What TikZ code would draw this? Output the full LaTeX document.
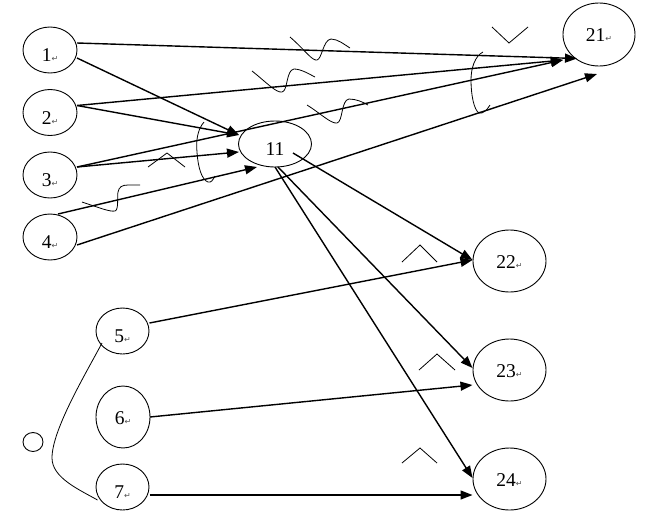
\documentclass[tikz,border=0pt]{standalone}
\usepackage{fontspec}
\setmainfont{Liberation Serif}
\newfontfamily\dvsfont{DejaVu Sans}
\usetikzlibrary{arrows.meta,shapes.geometric}
\definecolor{retgray}{RGB}{80,80,80}
\newcommand{\retmark}{{\dvsfont\fontsize{8}{8}\selectfont\color{retgray}↵}}
\begin{document}
\begin{tikzpicture}[x=1pt,y=-1pt,
  nd/.style={ellipse, draw, line width=0.9pt, inner sep=0pt, font=\fontsize{19.5}{19.5}\selectfont, text depth=0pt},
  sm/.style={nd, minimum width=54pt, minimum height=46pt, text height=23.5pt},
  bg/.style={nd, minimum width=73pt, minimum height=62pt, text height=14pt},
  conn/.style={line width=1.4pt, -{Triangle[length=12pt,width=9pt]}},
  deco/.style={line width=0.8pt}]
\useasboundingbox (0,0) rectangle (654,515);
% nodes
\node[sm] (n1) at (50,50) {1\retmark};
\node[sm] (n2) at (50,112.5) {2\retmark};
\node[sm] (n3) at (50,175) {3\retmark};
\node[sm] (n4) at (50,237) {4\retmark};
\node[sm, minimum width=73pt] (n11) at (275,144) {11};
\node[bg, minimum width=72pt, minimum height=63pt] (n21) at (599,34.5) {21\retmark};
\node[bg] (n22) at (509.5,261) {22\retmark};
\node[bg] (n23) at (509.5,370) {23\retmark};
\node[bg] (n24) at (509.5,479) {24\retmark};
\node[sm, minimum width=53pt] (n5) at (122.5,331) {5\retmark};
\node[bg, minimum width=54pt] (n6) at (123,417) {6\retmark};
\node[sm, minimum width=53pt] (n7) at (122.5,487) {7\retmark};
\draw[line width=0.9pt] (33,442) ellipse [x radius=10, y radius=9.5];
% connectors
\draw[conn] ([shift={(27,-7)}]n1.center) -- ([shift={(-22,24)}]n21.center);
\draw[conn] ([shift={(27,8)}]n1.center) -- ([shift={(-36,-9)}]n11.center);
\draw[conn] ([shift={(27,-7)}]n2.center) -- ([shift={(-36,25.5)}]n21.center);
\draw[conn] ([shift={(27,-7)}]n2.center) -- ([shift={(-36,-9)}]n11.center);
\draw[conn] ([shift={(27,-8)}]n3.center) -- ([shift={(-36,25.5)}]n21.center);
\draw[conn] ([shift={(27,-8)}]n3.center) -- ([shift={(-36,8)}]n11.center);
\draw[conn] ([shift={(8,-23)}]n4.center) -- ([shift={(-18,23)}]n11.center);
\draw[conn] ([shift={(27,8)}]n4.center) -- ([shift={(-2,39.5)}]n21.center);
\draw[conn] ([shift={(18,9)}]n11.center) -- ([shift={(-37,-1)}]n22.center);
\draw[conn] ([shift={(3,23)}]n11.center) -- ([shift={(-37,-2)}]n23.center);
\draw[conn] ([shift={(0,23)}]n11.center) -- ([shift={(-37,-1)}]n24.center);
\draw[conn] ([shift={(27,-8)}]n5.center) -- ([shift={(-37,-1)}]n22.center);
\draw[conn] ([shift={(27,0)}]n6.center) -- ([shift={(-37,15)}]n23.center);
\draw[conn] ([shift={(27,8)}]n7.center) -- ([shift={(-37,16)}]n24.center);
% curve 5-7
\draw[deco] ([shift={(-20.5,12)}]n5.center) .. controls (85,375) and (52,430) .. (52,458)
  .. controls (52,478) and (80,490) .. ([shift={(-25,13)}]n7.center);
% waves
\draw[deco] (290,37) .. controls (305,50) and (312,61) .. (317,60) .. controls (322,59) and (323,40) .. (331,39) .. controls (338,39) and (345,45) .. (350,48);
\draw[deco] (252,71) .. controls (266,82) and (276,93) .. (282,92) .. controls (288,91) and (286,70) .. (294,69) .. controls (301,69) and (309,74) .. (315,77);
\draw[deco] (307,105) .. controls (320,113) and (331,124) .. (337,123) .. controls (343,122) and (341,100) .. (349,99) .. controls (356,99) and (363,102) .. (368,105);
\draw[deco] (82,202) .. controls (100,208) and (110,212) .. (115,211) .. controls (119,210) and (117,196) .. (118,192) .. controls (119,187) and (122,185) .. (128,185) -- (140,185);
% carets
\draw[deco] (148,167) -- (167,153) -- (185,167);
\draw[deco] (492,27) -- (509,43) -- (528,27);
\draw[deco] (402,262) -- (420,245) -- (437,262);
\draw[deco] (419,370) -- (437,354) -- (455,370);
\draw[deco] (402,463) -- (420,448) -- (437,463);
% brackets
\draw[deco] (204,122) .. controls (197,130) and (196,142) .. (197,152) .. controls (198,168) and (202,180) .. (208,182) .. controls (211,183) and (213,180) .. (215,176);
\draw[deco] (483,52) .. controls (475,56) and (471,68) .. (471,80) .. controls (471,95) and (474,110) .. (479,113) .. controls (483,114) and (487,110) .. (490,105);
\end{tikzpicture}
\end{document}
